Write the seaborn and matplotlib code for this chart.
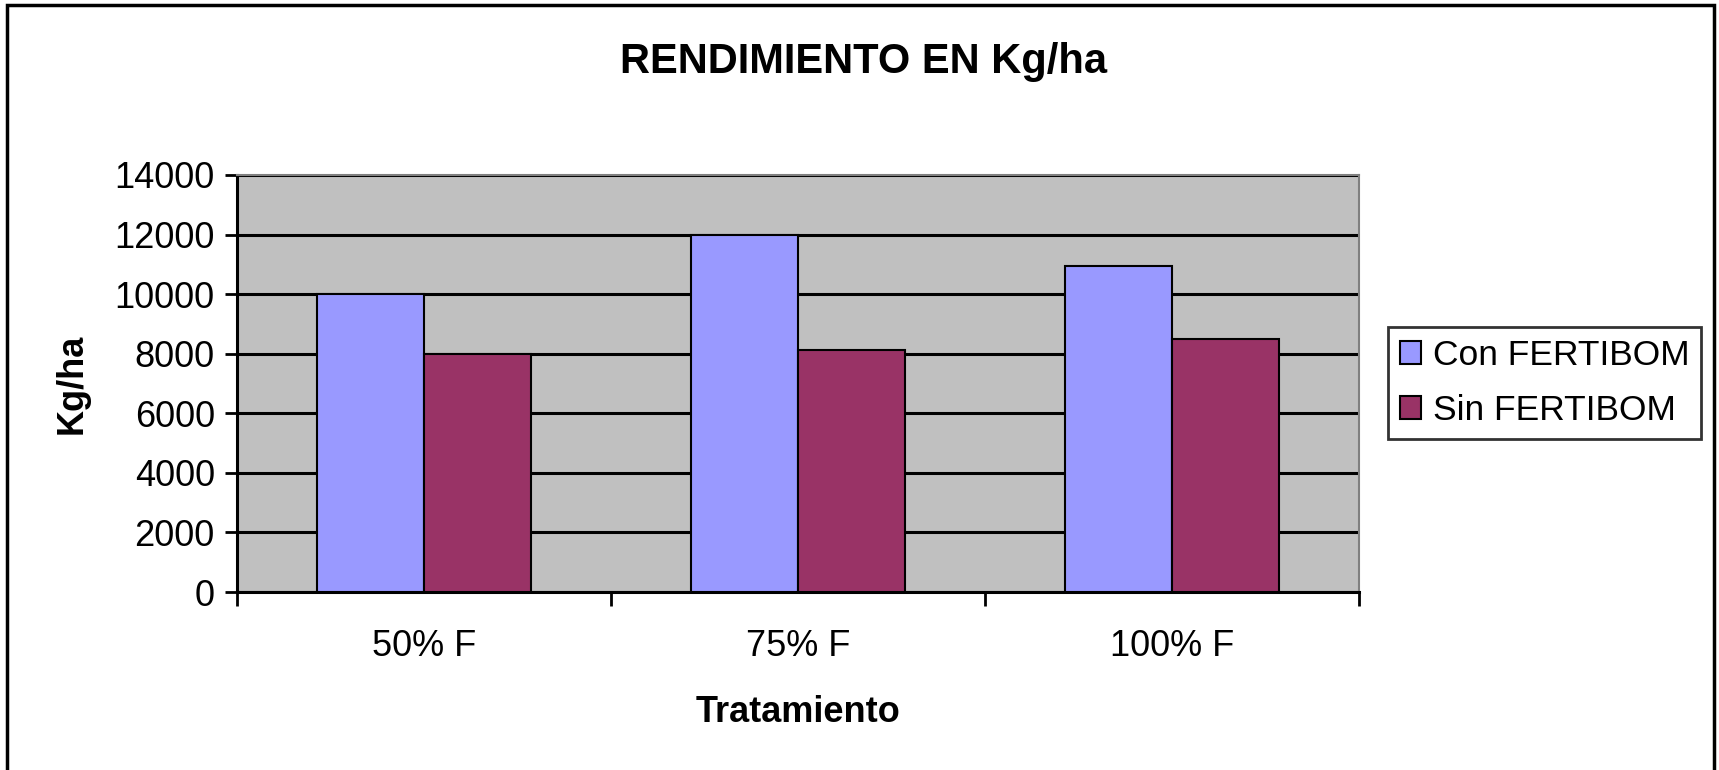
import matplotlib
matplotlib.use("Agg")
import matplotlib.pyplot as plt
import seaborn as sns
import pandas as pd
from matplotlib.patches import Rectangle

categories = ["50% F", "75% F", "100% F"]
series_names = ["Con FERTIBOM", "Sin FERTIBOM"]
con_values = [10000, 12000, 10950]
sin_values = [8000, 8120, 8500]
y_ticks = [0, 2000, 4000, 6000, 8000, 10000, 12000, 14000]

df = pd.DataFrame({
    "Tratamiento": categories * 2,
    "Serie": [series_names[0]] * 3 + [series_names[1]] * 3,
    "Valor": con_values + sin_values,
})

sns.set_style("white")
plt.rcParams["font.family"] = ["Liberation Sans", "DejaVu Sans"]
plt.rcParams["text.color"] = "black"
plt.rcParams["axes.labelcolor"] = "black"
plt.rcParams["xtick.color"] = "black"
plt.rcParams["ytick.color"] = "black"

W, H = 1719, 770
fig = plt.figure(figsize=(W / 100, H / 100), dpi=100)
ax = fig.add_axes([237 / W, 1 - 592 / H, (1359 - 237) / W, (592 - 175) / H])

sns.barplot(data=df, x="Tratamiento", y="Valor", hue="Serie", order=categories,
            hue_order=series_names, palette=["#9999FF", "#993366"], width=0.57,
            edgecolor="black", linewidth=1.5, saturation=1, ax=ax, zorder=3)

ax.set_facecolor("#C0C0C0")
ax.set_ylim(0, 14000)
ax.set_xlim(-0.5, 2.5)
ax.set_yticks(y_ticks)
ax.set_yticklabels([str(v) for v in y_ticks], fontsize=26)
ax.yaxis.grid(True, color="black", linewidth=2.2, zorder=1)
ax.set_axisbelow(True)
ax.tick_params(axis="y", direction="out", length=9, width=2, left=True, pad=7)
ax.set_xticks(range(3))
ax.set_xticklabels(categories, fontsize=26)
ax.set_xticks([-0.5, 0.5, 1.5, 2.5], minor=True)
ax.tick_params(axis="x", which="major", length=0, pad=27)
ax.tick_params(axis="x", which="minor", direction="out", length=10, width=2, bottom=True)

for s in ["top", "right"]:
    ax.spines[s].set_color("#808080")
    ax.spines[s].set_linewidth(1.5)
for s in ["left", "bottom"]:
    ax.spines[s].set_color("black")
    ax.spines[s].set_linewidth(2.2)

ax.set_xlabel("Tratamiento", fontsize=26, fontweight="bold", labelpad=22)
ax.set_ylabel("Kg/ha", fontsize=26, fontweight="bold", labelpad=18)

fig.text(864 / W, 1 - 62 / H, "RENDIMIENTO EN Kg/ha", fontsize=30, fontweight="bold",
         ha="center", va="center")

leg = ax.legend(loc="center left", bbox_to_anchor=(1388 / W, 1 - 383 / H),
                bbox_transform=fig.transFigure, fontsize=25.5, frameon=True,
                fancybox=False, handlelength=0.6, handleheight=0.6,
                handletextpad=0.33, borderpad=0.33, labelspacing=0.62,
                borderaxespad=0, title=None)
leg.get_frame().set_edgecolor("black")
leg.get_frame().set_linewidth(2)
for h in leg.legend_handles:
    h.set_edgecolor("black")
    h.set_linewidth(1.5)

fig.patches.append(Rectangle((7 / W, -0.1), (1714 - 7) / W, 1.1 - 5 / H,
                             transform=fig.transFigure, fill=False,
                             edgecolor="black", linewidth=2.5))

fig.savefig("out.png", dpi=100)
